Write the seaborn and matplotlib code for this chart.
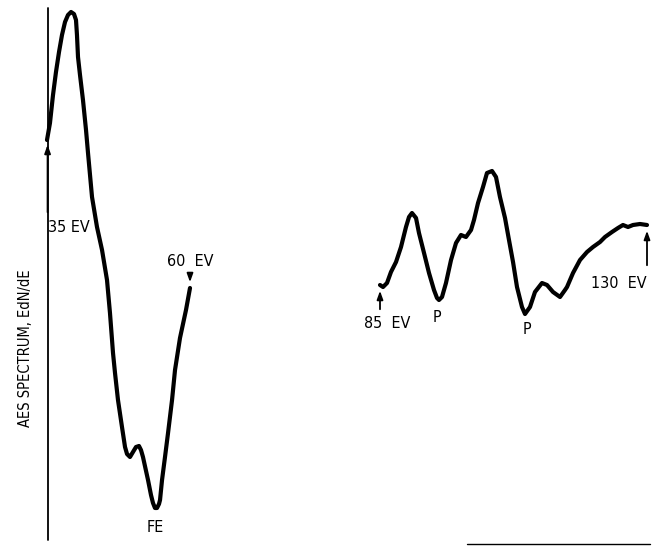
import matplotlib
matplotlib.use("Agg")
import matplotlib.pyplot as plt
import seaborn as sns
import pandas as pd
from matplotlib.lines import Line2D

# Fe region (eV) and signal (arbitrary units)
fe_energy = [35.00, 35.52, 36.05, 36.57, 37.10, 37.62, 38.15, 38.67, 39.20, 39.72,
             40.07, 40.24, 40.42, 40.77, 41.29, 41.82, 42.17, 42.87, 43.74, 44.62,
             45.49, 46.01, 46.54, 46.89, 47.41, 48.11, 48.64, 48.99, 49.51, 50.03,
             50.56, 51.08, 51.43, 51.78, 52.66, 53.18, 53.53, 53.88, 54.23, 54.58,
             54.76, 55.11, 55.63, 56.16, 56.86, 57.38, 58.25, 59.30, 60.00]
fe_signal = [380, 397, 425, 448, 468, 485, 498, 505, 508, 506,
             500, 485, 463, 445, 420, 390, 367, 323, 293, 270,
             240, 207, 167, 147, 120, 93, 73, 66, 63, 68,
             73, 74, 70, 63, 40, 25, 17, 12, 12, 16,
             20, 40, 63, 87, 120, 150, 182, 210, 232]

# P region (eV) and signal (arbitrary units)
p_energy = [85.00, 85.51, 86.18, 86.85, 87.70, 88.54, 89.38, 89.89, 90.39, 91.07,
            91.57, 92.42, 93.26, 94.10, 94.61, 94.94, 95.45, 96.12, 96.97, 97.81,
            98.65, 99.49, 100.34, 100.84, 101.52, 102.36, 103.03, 103.88, 104.55, 105.22,
            106.07, 106.74, 107.42, 108.09, 108.93, 109.44, 110.28, 111.12, 112.30, 113.15,
            114.16, 115.34, 116.18, 116.52, 117.53, 118.71, 119.89, 120.90, 122.08, 122.92,
            124.10, 125.11, 125.95, 126.80, 127.64, 128.82, 130.00]
p_signal = [235, 233, 237, 248, 258, 273, 293, 303, 307, 302,
            287, 267, 247, 230, 222, 220, 223, 237, 260, 277,
            285, 283, 290, 300, 317, 333, 347, 349, 343, 323,
            302, 280, 258, 233, 213, 206, 213, 228, 237, 235,
            228, 223, 230, 233, 247, 260, 268, 273, 278, 283,
            288, 292, 295, 293, 295, 296, 295]

ylabel = "AES SPECTRUM, EdN/dE"

sns.set_style("white")
plt.rcParams['font.family'] = ['DejaVu Sans']

W, H = 654, 546
fig = plt.figure(figsize=(W / 100, H / 100), dpi=100)
fig.patch.set_facecolor("white")

ylim = (-26, 520)
axL = fig.add_axes([47 / W, 0, (190 - 47) / W, 1])
axR = fig.add_axes([380 / W, 0, (647 - 380) / W, 1])
for ax in (axL, axR):
    ax.set_ylim(*ylim)
    ax.set_axis_off()
    ax.patch.set_alpha(0)
axL.set_xlim(35, 60)
axR.set_xlim(85, 130)

df_fe = pd.DataFrame({"E": fe_energy, "S": fe_signal})
df_p = pd.DataFrame({"E": p_energy, "S": p_signal})
sns.lineplot(data=df_fe, x="E", y="S", ax=axL, color="black", lw=3.0,
             sort=False, estimator=None, clip_on=False)
sns.lineplot(data=df_p, x="E", y="S", ax=axR, color="black", lw=3.0,
             sort=False, estimator=None, clip_on=False)
for ax in (axL, axR):
    for ln in ax.lines:
        ln.set_solid_capstyle("round")
        ln.set_solid_joinstyle("round")

# vertical axis line at left
axL.plot([35.1, 35.1], [-20, 512], color="black", lw=1.3, clip_on=False)
# bottom-right baseline
fig.add_artist(Line2D([467 / W, 650 / W], [1 - 544 / H, 1 - 544 / H],
                      color="black", lw=1.0, transform=fig.transFigure))

fkw = dict(fontsize=11.5, fontstretch="condensed", color="black")
ap = dict(arrowstyle="-|>,head_length=0.5,head_width=0.18", color="black", lw=1.3)

# 35 eV
axL.annotate("", xy=(fe_energy[0] + 0.1, fe_signal[0] - 2), xytext=(fe_energy[0] + 0.1, 305),
             arrowprops=ap, annotation_clip=False)
axL.text(35.2, 292, "35 EV", ha="left", va="center", **fkw)
# 60 eV
axL.annotate("", xy=(fe_energy[-1], fe_signal[-1] + 3), xytext=(fe_energy[-1], 246),
             arrowprops=ap, annotation_clip=False)
axL.text(fe_energy[-1], 258, "60  EV", ha="center", va="center", **fkw)
# FE
axL.text(54.0, -7, "FE", ha="center", va="center", **fkw)

# 85 eV
axR.annotate("", xy=(p_energy[0], p_signal[0] - 3), xytext=(p_energy[0], 208),
             arrowprops=ap, annotation_clip=False)
axR.text(86.2, 196, "85  EV", ha="center", va="center", **fkw)
# P labels
axR.text(94.6, 203, "P", ha="center", va="center", **fkw)
axR.text(109.8, 190, "P", ha="center", va="center", **fkw)
# 130 eV
axR.annotate("", xy=(p_energy[-1], p_signal[-1] - 3), xytext=(p_energy[-1], 252),
             arrowprops=ap, annotation_clip=False)
axR.text(130.0, 237, "130  EV", ha="right", va="center", **fkw)

fig.text(26 / W, 1 - 348 / H, ylabel, rotation=90, ha="center", va="center",
         fontsize=10.5, fontstretch="condensed", color="black")

fig.savefig("out.png", dpi=100, facecolor="white")
